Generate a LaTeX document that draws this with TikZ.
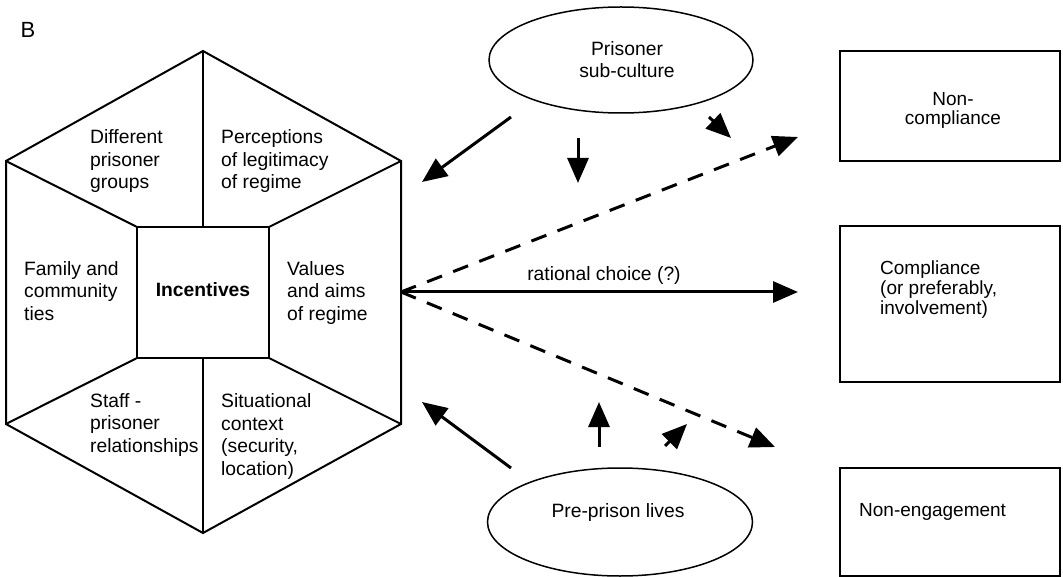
\documentclass[tikz,border=0pt]{standalone}
\usepackage{fontspec}
\setmainfont{Liberation Sans}
\usetikzlibrary{arrows.meta,shapes.geometric}
\begin{document}
\begin{tikzpicture}[x=1pt,y=-1pt,
  hexline/.style={line width=2pt, line join=miter, line cap=round},
  txt/.style={inner sep=0pt, align=left, font=\fontsize{19.3}{22.5}\selectfont},
  ctxt/.style={inner sep=0pt, align=center, font=\fontsize{19.3}{22.5}\selectfont},
  boxtxt/.style={inner sep=0pt, align=left, font=\fontsize{19}{20}\selectfont},
  bigarrow/.style={line width=3pt, -{Triangle[length=25pt,width=21pt]}},
  dasharrow/.style={bigarrow, dash pattern=on 16pt off 12pt},
  oval/.style={ellipse, draw, line width=1.5pt, inner sep=0pt},
  outbox/.style={draw, line width=2.3pt, inner sep=0pt}
]
\path[use as bounding box] (0,0) rectangle (1063,577);

% label B (anchor base = baseline of last line)
\node[ctxt, anchor=base, font=\fontsize{22}{24}\selectfont] (lblB) at (28,38) {B};

% hexagon
\coordinate (T) at (203,51);
\coordinate (UL) at (6,161);
\coordinate (UR) at (401,161);
\coordinate (LL) at (6,424);
\coordinate (LR) at (401,424);
\coordinate (Bt) at (203,533);
\coordinate (ITL) at (137,227);
\coordinate (ITR) at (269,227);
\coordinate (IBL) at (137,358);
\coordinate (IBR) at (269,358);
\coordinate (ITC) at (203,227);
\coordinate (IBC) at (203,358);
\coordinate (HR) at (401,292);
\draw[hexline] (T) -- (UR) -- (LR) -- (Bt) -- (LL) -- (UL) -- cycle;
\draw[hexline] (ITL) rectangle (IBR);
\draw[hexline] (T) -- (ITC);
\draw[hexline] (IBC) -- (Bt);
\draw[hexline] (UL) -- (ITL);
\draw[hexline] (UR) -- (ITR);
\draw[hexline] (LL) -- (IBL);
\draw[hexline] (LR) -- (IBR);

% hexagon texts (positions give the baseline of the last line)
\node[txt, anchor=base west] (tdiff) at (90,189) {Different\\prisoner\\groups};
\node[txt, anchor=base west] (tperc) at (221,189) {Perceptions\\of legitimacy\\of regime};
\node[txt, anchor=base west] (tfam) at (24,320) {Family and\\community\\ties};
\node[txt, anchor=base, font=\fontsize{19.3}{22.5}\selectfont\bfseries] (tinc) at (203,297) {Incentives};
\node[txt, anchor=base west] (tval) at (287,320) {Values\\and aims\\of regime};
\node[txt, anchor=base west] (tstaff) at (90,452) {Staff -\\prisoner\\relationships};
\node[txt, anchor=base west] (tsit) at (221,475) {Situational\\context\\(security,\\location)};

% ellipses
\node[oval, minimum width=264pt, minimum height=106pt] (psc) at (621,60) {};
\node[ctxt, anchor=base] (tpsc) at (627,78) {Prisoner\\sub-culture};
\node[oval, minimum width=265pt, minimum height=108pt] (ppl) at (620,522) {};
\node[ctxt, anchor=base] (tppl) at (618,517) {Pre-prison lives};

% outcome boxes
\node[outbox, minimum width=220pt, minimum height=110pt] (nc) at (950,106) {};
\node[ctxt, anchor=base, font=\fontsize{19}{19}\selectfont] (tnc) at (953,125) {Non-\\compliance};
\node[outbox, minimum width=220pt, minimum height=156pt] (co) at (950,304) {};
\node[boxtxt, anchor=base west] (tco) at (880,315) {Compliance\\(or preferably,\\involvement)};
\node[outbox, minimum width=220pt, minimum height=108pt] (ne) at (950,522) {};
\node[boxtxt, anchor=base west] (tne) at (859,516) {Non-engagement};

% arrow end points
\coordinate (a1s) at (511,117);
\coordinate (a1e) at (422,182);
\coordinate (a2s) at (578,138);
\coordinate (a2e) at (578,183);
\coordinate (a3s) at (709,117);
\coordinate (a3e) at (731,138);
\coordinate (b1s) at (511,468);
\coordinate (b1e) at (422,402);
\coordinate (b2s) at (599,447);
\coordinate (b2e) at (599,402);
\coordinate (b3s) at (665,446);
\coordinate (b3e) at (687,424);
\coordinate (rcE) at (798,292);
\coordinate (upE) at (798,137);
\coordinate (dnE) at (775,447);

% rational choice arrows
\draw[bigarrow] (HR) -- (rcE);
\node[ctxt, anchor=base] (trc) at (604,281) {rational choice (?)};
\draw[dasharrow] (HR) -- (upE);
\draw[dasharrow] (HR) -- (dnE);

% influence arrows
\draw[bigarrow] (a1s) -- (a1e);
\draw[bigarrow] (a2s) -- (a2e);
\draw[bigarrow] (a3s) -- (a3e);
\draw[bigarrow] (b1s) -- (b1e);
\draw[bigarrow] (b2s) -- (b2e);
\draw[bigarrow] (b3s) -- (b3e);
\end{tikzpicture}
\end{document}
